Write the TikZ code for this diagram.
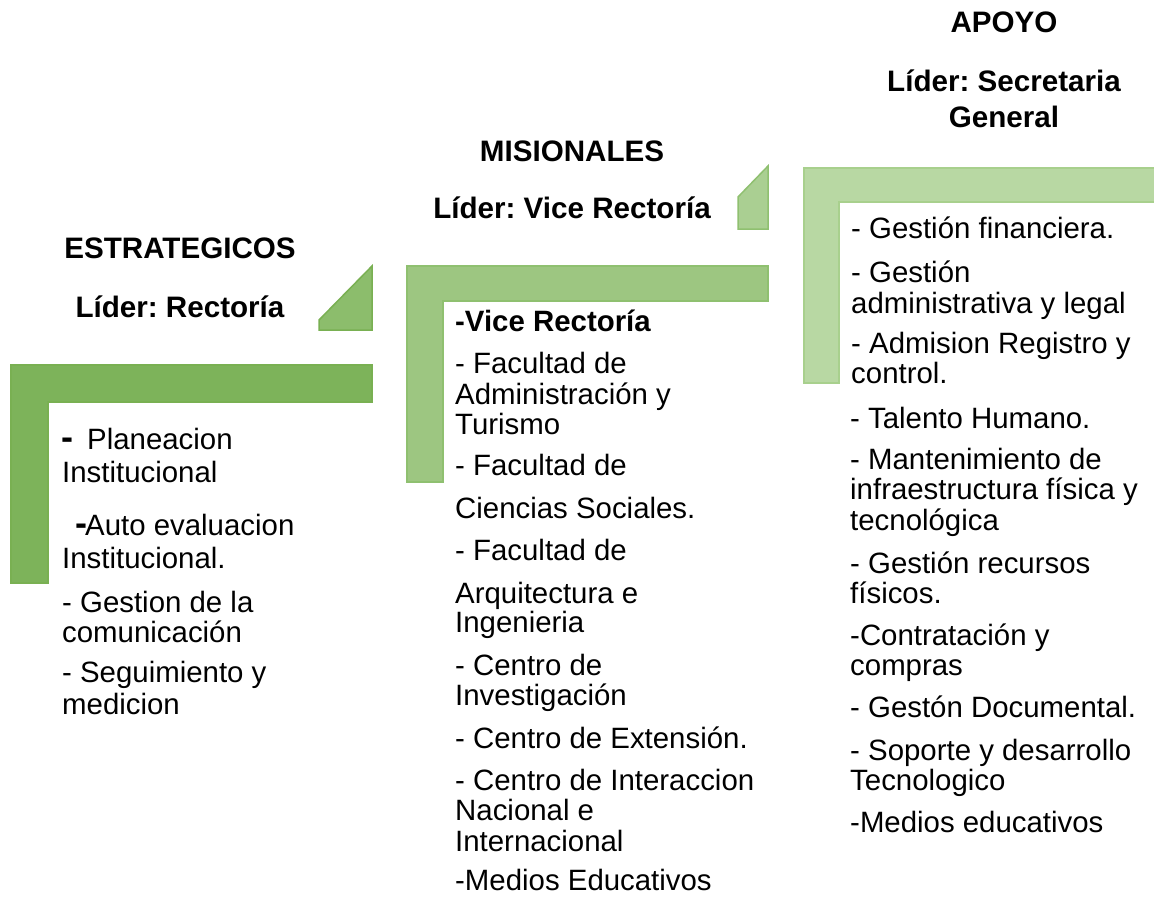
\documentclass[tikz,border=0pt]{standalone}
\usepackage{fontspec}
\setmainfont{Liberation Sans}
\frenchspacing
\definecolor{gA}{HTML}{7DB35A}
\definecolor{gAd}{HTML}{79B052}
\definecolor{gAt}{HTML}{8CBD6C}
\definecolor{gB}{HTML}{9DC681}
\definecolor{gBd}{HTML}{8FC070}
\definecolor{gBt}{HTML}{AACF92}
\definecolor{gC}{HTML}{B8D8A3}
\definecolor{gCd}{HTML}{A8D08D}
\begin{document}
\begin{tikzpicture}[x=1pt,y=-1pt,
  bodytxt/.style={anchor=base west, inner sep=0pt, font=\fontsize{29.4}{32}\selectfont\frenchspacing},
  ttl/.style={anchor=base, inner sep=0pt, font=\fontsize{29.6}{32}\selectfont\bfseries\frenchspacing},
  bigdash/.style={anchor=base west, inner sep=0pt, font=\fontsize{36}{36}\selectfont\bfseries},
  lshapeA/.style={fill=gA, draw=gAd, line width=1.5pt},
  lshapeB/.style={fill=gB, draw=gBd, line width=1.5pt},
  lshapeC/.style={fill=gC, draw=gCd, line width=1.5pt},
  triA/.style={fill=gAt, draw=gAd, line width=1.5pt},
  triB/.style={fill=gBt, draw=gBd, line width=1.5pt}]
\useasboundingbox (0,0) rectangle (1154,898);
\fill[white] (0,0) rectangle (1154,898);

% shapes
\path[lshapeA] (11,365) -- (372,365) -- (372,402) -- (48,402) -- (48,583) -- (11,583) -- cycle;
\path[triA] (319,330) -- (319,320) -- (372,266) -- (372,330) -- cycle;
\path[lshapeB] (407,266) -- (768,266) -- (768,301) -- (443,301) -- (443,482) -- (407,482) -- cycle;
\path[triB] (738,229) -- (738,197) -- (768,166) -- (768,229) -- cycle;
\path[lshapeC] (804,168) -- (1158,168) -- (1158,202) -- (839,202) -- (839,383) -- (804,383) -- cycle;

% titles
\node[ttl] (tA1) at (180,258) {ESTRATEGICOS};
\node[ttl] (tA2) at (180,317) {Líder: Rectoría};
\node[ttl] (tB1) at (572,161) {MISIONALES};
\node[ttl] (tB2) at (572,218) {Líder: Vice Rectoría};
\node[ttl] (tC1) at (1004,32) {APOYO};
\node[ttl] (tC2) at (1004,91) {Líder: Secretaria};
\node[ttl] (tC3) at (1004,127) {General};

% strategic list
\node[bigdash] (a0) at (61,449) {-};
\node[bodytxt] (a1) at (87,449) {Planeacion};
\node[bodytxt] (a2) at (62,482) {Institucional};
\node[bigdash] (a3d) at (75,535) {-};
\node[bodytxt] (a3) at (85,535) {Auto evaluacion};
\node[bodytxt] (a4) at (62,568) {Institucional.};
\node[bodytxt] (a5) at (62,612) {- Gestion de la};
\node[bodytxt] (a6) at (62,642) {comunicación};
\node[bodytxt] (a7) at (62,682) {- Seguimiento y};
\node[bodytxt] (a8) at (62,714) {medicion};

% misional list
\node[bodytxt, font=\fontsize{29.4}{32}\selectfont\bfseries] (b0) at (455,331) {-Vice Rectoría};
\node[bodytxt] (b1) at (455,373) {- Facultad de};
\node[bodytxt] (b2) at (455,404) {Administración y};
\node[bodytxt] (b3) at (455,434) {Turismo};
\node[bodytxt] (b4) at (455,475) {- Facultad de};
\node[bodytxt] (b5) at (455,518) {Ciencias Sociales.};
\node[bodytxt] (b6) at (455,560) {- Facultad de};
\node[bodytxt] (b7) at (455,603) {Arquitectura e};
\node[bodytxt] (b8) at (455,632) {Ingenieria};
\node[bodytxt] (b9) at (455,675) {- Centro de};
\node[bodytxt] (b10) at (455,705) {Investigación};
\node[bodytxt] (b11) at (455,748) {- Centro de Extensión.};
\node[bodytxt] (b12) at (455,790) {- Centro de Interaccion};
\node[bodytxt] (b13) at (455,820) {Nacional e};
\node[bodytxt] (b14) at (455,851) {Internacional};
\node[bodytxt] (b15) at (455,890) {-Medios Educativos};

% apoyo list
\node[bodytxt] (c1) at (851,238) {- Gestión financiera.};
\node[bodytxt] (c2) at (851,282) {- Gestión};
\node[bodytxt] (c3) at (851,313) {administrativa y legal};
\node[bodytxt] (c4) at (851,353) {- Admision Registro y};
\node[bodytxt] (c5) at (851,383) {control.};
\node[bodytxt] (c6) at (850,428) {- Talento Humano.};
\node[bodytxt] (c7) at (850,469) {- Mantenimiento de};
\node[bodytxt] (c8) at (850,499) {infraestructura física y};
\node[bodytxt] (c9) at (850,530) {tecnológica};
\node[bodytxt] (c10) at (850,573) {- Gestión recursos};
\node[bodytxt] (c11) at (850,603) {físicos.};
\node[bodytxt] (c12) at (850,645) {-Contratación y};
\node[bodytxt] (c13) at (850,675) {compras};
\node[bodytxt] (c14) at (850,717) {- Gestón Documental.};
\node[bodytxt] (c15) at (850,760) {- Soporte y desarrollo};
\node[bodytxt] (c16) at (850,790) {Tecnologico};
\node[bodytxt] (c17) at (850,832) {-Medios educativos};
\end{tikzpicture}
\end{document}
